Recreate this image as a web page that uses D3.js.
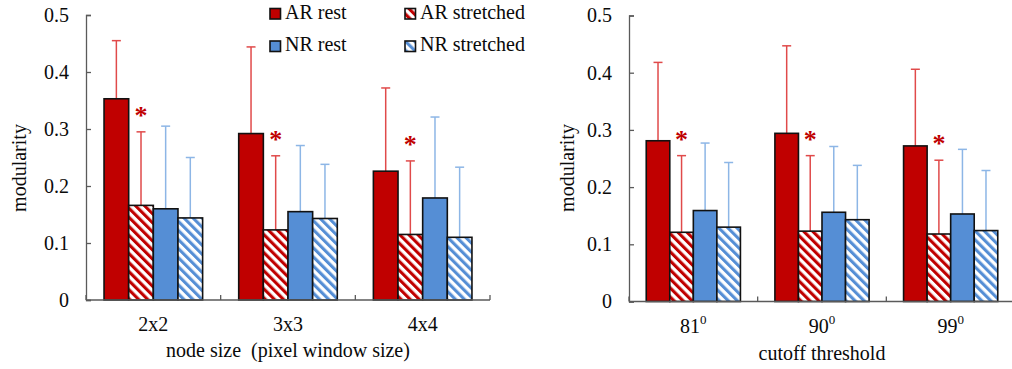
<!DOCTYPE html>
<html>
<head>
<meta charset="utf-8">
<script src="https://cdn.jsdelivr.net/npm/d3@7"></script>
<style>
  html, body { margin: 0; padding: 0; background: #fff; }
  svg { display: block; font-family: "Liberation Serif", "Times New Roman", serif; }
</style>
</head>
<body>
<svg id="fig" width="1012" height="369"></svg>
<script>
// Series order within each group
const seriesNames = ["AR rest", "AR stretched", "NR rest", "NR stretched"];

// Panel 1: node size
const nodeCategories = ["2x2", "3x3", "4x4"];
const nodeArRest      = [0.353, 0.292, 0.226];
const nodeArRestSd    = [0.102, 0.152, 0.146];
const nodeArStretch   = [0.166, 0.123, 0.115];
const nodeArStretchSd = [0.129, 0.130, 0.129];
const nodeNrRest      = [0.160, 0.155, 0.179];
const nodeNrRestSd    = [0.145, 0.116, 0.142];
const nodeNrStretch   = [0.144, 0.143, 0.110];
const nodeNrStretchSd = [0.106, 0.095, 0.123];

// Panel 2: cutoff threshold (degrees)
const cutoffCategories = ["81", "90", "99"];
const cutArRest      = [0.281, 0.294, 0.272];
const cutArRestSd    = [0.137, 0.153, 0.134];
const cutArStretch   = [0.121, 0.123, 0.118];
const cutArStretchSd = [0.134, 0.132, 0.129];
const cutNrRest      = [0.159, 0.156, 0.153];
const cutNrRestSd    = [0.118, 0.115, 0.113];
const cutNrStretch   = [0.130, 0.143, 0.124];
const cutNrStretchSd = [0.113, 0.095, 0.105];

const yTicks = [0, 0.1, 0.2, 0.3, 0.4, 0.5];
const yTickLabels = ["0", "0.1", "0.2", "0.3", "0.4", "0.5"];

const AR = "#c00000", NR = "#558ed5";
const AR_ERR = "#e04a4a", NR_ERR = "#8db6e6";
const AXIS = "#5a5a5a";
const TEXT = "#0a0a0a";
const FONT = "Liberation Serif, Times New Roman, serif";

const svg = d3.select("#fig");
svg.append("rect").attr("width", 1012).attr("height", 369).attr("fill", "#fff");

// Diagonal hatch patterns
const defs = svg.append("defs");
function hatch(id, color) {
  const p = defs.append("pattern")
    .attr("id", id)
    .attr("patternUnits", "userSpaceOnUse")
    .attr("width", 6.4).attr("height", 6.4)
    .attr("patternTransform", "rotate(-45)");
  p.append("rect").attr("width", 6.4).attr("height", 6.4).attr("fill", "#fff");
  p.append("rect").attr("width", 3.1).attr("height", 6.4).attr("fill", color);
}
hatch("hatchAR", AR);
hatch("hatchNR", NR);

const fills = [AR, "url(#hatchAR)", NR, "url(#hatchNR)"];
const errColors = [AR_ERR, AR_ERR, NR_ERR, NR_ERR];

function panel(cfg) {
  const g = svg.append("g");
  const y = d3.scaleLinear().domain([0, 0.5]).range([cfg.yBottom, cfg.yTop]);
  const x = d3.scaleBand().domain(cfg.categories).range([cfg.x0, cfg.x1]).padding(0);
  const bw = x.bandwidth();
  const inner = d3.scaleBand().domain(seriesNames)
    .range([bw * 0.134, bw * (1 - 0.134)]).padding(0);

  // y axis, ticks pointing inward
  const yAxis = d3.axisLeft(y).tickValues(yTicks)
    .tickFormat((d, i) => yTickLabels[i])
    .tickSize(-5).tickPadding(17);
  const ya = g.append("g").attr("transform", `translate(${cfg.x0},0)`).call(yAxis)
    .attr("font-family", FONT).attr("font-size", 20);
  ya.select(".domain").attr("stroke", AXIS).attr("stroke-width", 1.3);
  ya.selectAll(".tick line").attr("stroke", AXIS).attr("stroke-width", 1.3);
  ya.selectAll(".tick text").attr("fill", TEXT);

  // y axis title
  g.append("text")
    .attr("transform", `translate(${cfg.yTitleX},${cfg.yTitleY}) rotate(-90)`)
    .attr("text-anchor", "middle").attr("dominant-baseline", "central")
    .attr("font-size", 20).attr("fill", TEXT).text("modularity");

  const vals = cfg.values, sds = cfg.sds;

  // error bars (upper only)
  cfg.categories.forEach((c, ci) => {
    seriesNames.forEach((s, si) => {
      const cx = x(c) + inner(s) + inner.bandwidth() / 2;
      const top = vals[si][ci] + sds[si][ci];
      const eg = g.append("g").attr("stroke", errColors[si]).attr("stroke-width", 1.5);
      eg.append("line").attr("x1", cx).attr("x2", cx)
        .attr("y1", y(vals[si][ci])).attr("y2", y(top));
      eg.append("line").attr("x1", cx - 4.5).attr("x2", cx + 4.5)
        .attr("y1", y(top)).attr("y2", y(top));
    });
  });

  // bars
  cfg.categories.forEach((c, ci) => {
    seriesNames.forEach((s, si) => {
      g.append("rect")
        .attr("x", x(c) + inner(s))
        .attr("y", y(vals[si][ci]))
        .attr("width", inner.bandwidth())
        .attr("height", y(0) - y(vals[si][ci]))
        .attr("fill", fills[si])
        .attr("stroke", "#111").attr("stroke-width", 1.6);
    });
    // significance marker above AR stretched error bar
    const sx = x(c) + inner("AR stretched") + inner.bandwidth() / 2;
    const stop = vals[1][ci] + sds[1][ci];
    g.append("text").attr("x", sx).attr("y", y(stop) - 8)
      .attr("text-anchor", "middle").attr("font-size", 26).attr("font-weight", "bold")
      .attr("fill", AR).text("*");
  });

  // x axis with inward ticks at group boundaries
  g.append("line").attr("x1", cfg.x0).attr("x2", cfg.x1)
    .attr("y1", y(0)).attr("y2", y(0)).attr("stroke", AXIS).attr("stroke-width", 1.3);
  const bounds = cfg.categories.map(c => x(c)).concat([x.range()[1]]);
  bounds.forEach(bx => {
    g.append("line").attr("x1", bx).attr("x2", bx)
      .attr("y1", y(0)).attr("y2", y(0) - 5).attr("stroke", AXIS).attr("stroke-width", 1.3);
  });

  // category labels
  cfg.categories.forEach(c => {
    const t = g.append("text").attr("x", x(c) + bw / 2).attr("y", cfg.catY)
      .attr("text-anchor", "middle").attr("font-size", 20).attr("fill", TEXT);
    t.append("tspan").text(c);
    if (cfg.degree) {
      t.append("tspan").attr("font-size", 13).attr("dy", -9).text("0");
    }
  });

  // x axis title
  g.append("text").attr("x", (cfg.x0 + cfg.x1) / 2).attr("y", cfg.titleY)
    .attr("text-anchor", "middle").attr("font-size", 20).attr("fill", TEXT)
    .attr("xml:space", "preserve").text(cfg.title);
}

panel({
  categories: nodeCategories,
  values: [nodeArRest, nodeArStretch, nodeNrRest, nodeNrStretch],
  sds: [nodeArRestSd, nodeArStretchSd, nodeNrRestSd, nodeNrStretchSd],
  x0: 86, x1: 490, yTop: 15, yBottom: 300,
  yTitleX: 19, yTitleY: 168,
  catY: 331, titleY: 357,
  title: "node size  (pixel window size)", degree: false
});

panel({
  categories: cutoffCategories,
  values: [cutArRest, cutArStretch, cutNrRest, cutNrStretch],
  sds: [cutArRestSd, cutArStretchSd, cutNrRestSd, cutNrStretchSd],
  x0: 629, x1: 1015, yTop: 15.5, yBottom: 301.5,
  yTitleX: 567, yTitleY: 168,
  catY: 333, titleY: 360,
  title: "cutoff threshold", degree: true
});

// Legend
const legendItems = [
  { name: "AR rest",      fill: AR,               x: 270, y: 8.5 },
  { name: "AR stretched", fill: "url(#hatchAR)",  x: 405, y: 8.5 },
  { name: "NR rest",      fill: NR,               x: 270, y: 41 },
  { name: "NR stretched", fill: "url(#hatchNR)",  x: 405, y: 41 }
];
const lg = svg.append("g");
legendItems.forEach(d => {
  lg.append("rect").attr("x", d.x).attr("y", d.y).attr("width", 10.5).attr("height", 10.5)
    .attr("fill", d.fill).attr("stroke", "#111").attr("stroke-width", 1.6);
  lg.append("text").attr("x", d.x + 15).attr("y", d.y + 10.3)
    .attr("font-size", 20).attr("fill", TEXT).text(d.name);
});
</script>
</body>
</html>
